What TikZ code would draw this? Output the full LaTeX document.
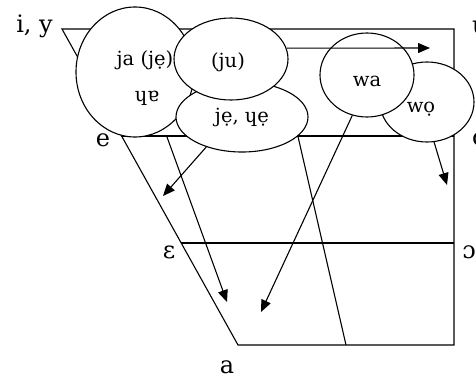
\documentclass[tikz,border=0pt]{standalone}
\usepackage{fontspec}
\setmainfont{DejaVu Serif}
\usetikzlibrary{arrows.meta,shapes.geometric}
\begin{document}
\begin{tikzpicture}[x=1pt,y=-1pt,
  frame/.style={line width=1.1pt},
  bubble/.style={draw,ellipse,fill=white,inner sep=0pt,line width=1.1pt},
  arr/.style={line width=1.1pt,-{Triangle[length=12pt,width=10pt]}},
  lbl/.style={font=\fontsize{24}{24}\selectfont,inner sep=0pt},
  txt/.style={font=\fontsize{19.5}{19.5}\selectfont,inner sep=0pt}]
\useasboundingbox (0,0) rectangle (476,380);

% vowel quadrilateral
\coordinate (iy) at (62,29);
\coordinate (uu) at (454,29);
\coordinate (bb) at (454,345);
\coordinate (aa) at (238,345);
\coordinate (ee) at (121,136);
\coordinate (oo) at (454,136);
\coordinate (eps) at (181,243);
\coordinate (oc) at (454,243);
\draw[frame] (iy) -- (uu) -- (bb) -- (aa) -- cycle;
\draw[frame] (ee) -- (oo);
\draw[frame] (eps) -- (oc);

% corner labels
\node[lbl,anchor=base east] (Liy) at (53,32) {i, y};
\node[lbl,anchor=base west] (Lu) at (472,33) {u};
\node[lbl,anchor=base west] (Lo) at (472,145) {o};
\node[lbl,anchor=base] (Le) at (103,146) {e};
\node[lbl,anchor=base] (Leps) at (169,258) {ɛ};
\node[lbl,anchor=base] (Loc) at (469,258) {ɔ};
\node[lbl,anchor=base] (La) at (227,373) {a};

% diphthong bubbles
\node[bubble,minimum width=118pt,minimum height=130pt] (B) at (135,72) {};
\node[bubble,minimum width=132pt,minimum height=70pt] (J) at (242,117) {};
\node[bubble,minimum width=114pt,minimum height=82pt] (U) at (231,59) {};
\node[bubble,minimum width=94pt,minimum height=80pt] (O) at (427,102) {};
\node[bubble,minimum width=94pt,minimum height=84pt] (W) at (367,75) {};

\node[txt,anchor=base] (tja) at (145,65) {ja (jẹ)};
\node[txt,anchor=base] (tqa) at (147,101) {ɥɐ};
\node[txt] (tju) at (228,62) {(ju)};
\node[txt,anchor=base] (tje) at (242,122) {jẹ, ɥẹ};
\node[txt,anchor=base] (twa) at (367,86) {wa};
\node[txt,anchor=base] (two) at (421,112) {wọ};

% movement arrows
\coordinate (a1) at (430,48);
\coordinate (a2) at (163,196);
\coordinate (t3) at (167,137);
\coordinate (a3) at (227,302);
\coordinate (a4) at (261,312);
\coordinate (b5) at (346,345);
\coordinate (a6) at (447,185);
\draw[arr] (U.11) -- (a1);
\draw[arr] (J.220) -- (a2);
\draw[arr] (t3) -- (a3);
\draw[arr] (W.250) -- (a4);
\draw[frame] (J.-19) -- (b5);
\draw[arr] (O.280) -- (a6);
\end{tikzpicture}
\end{document}
